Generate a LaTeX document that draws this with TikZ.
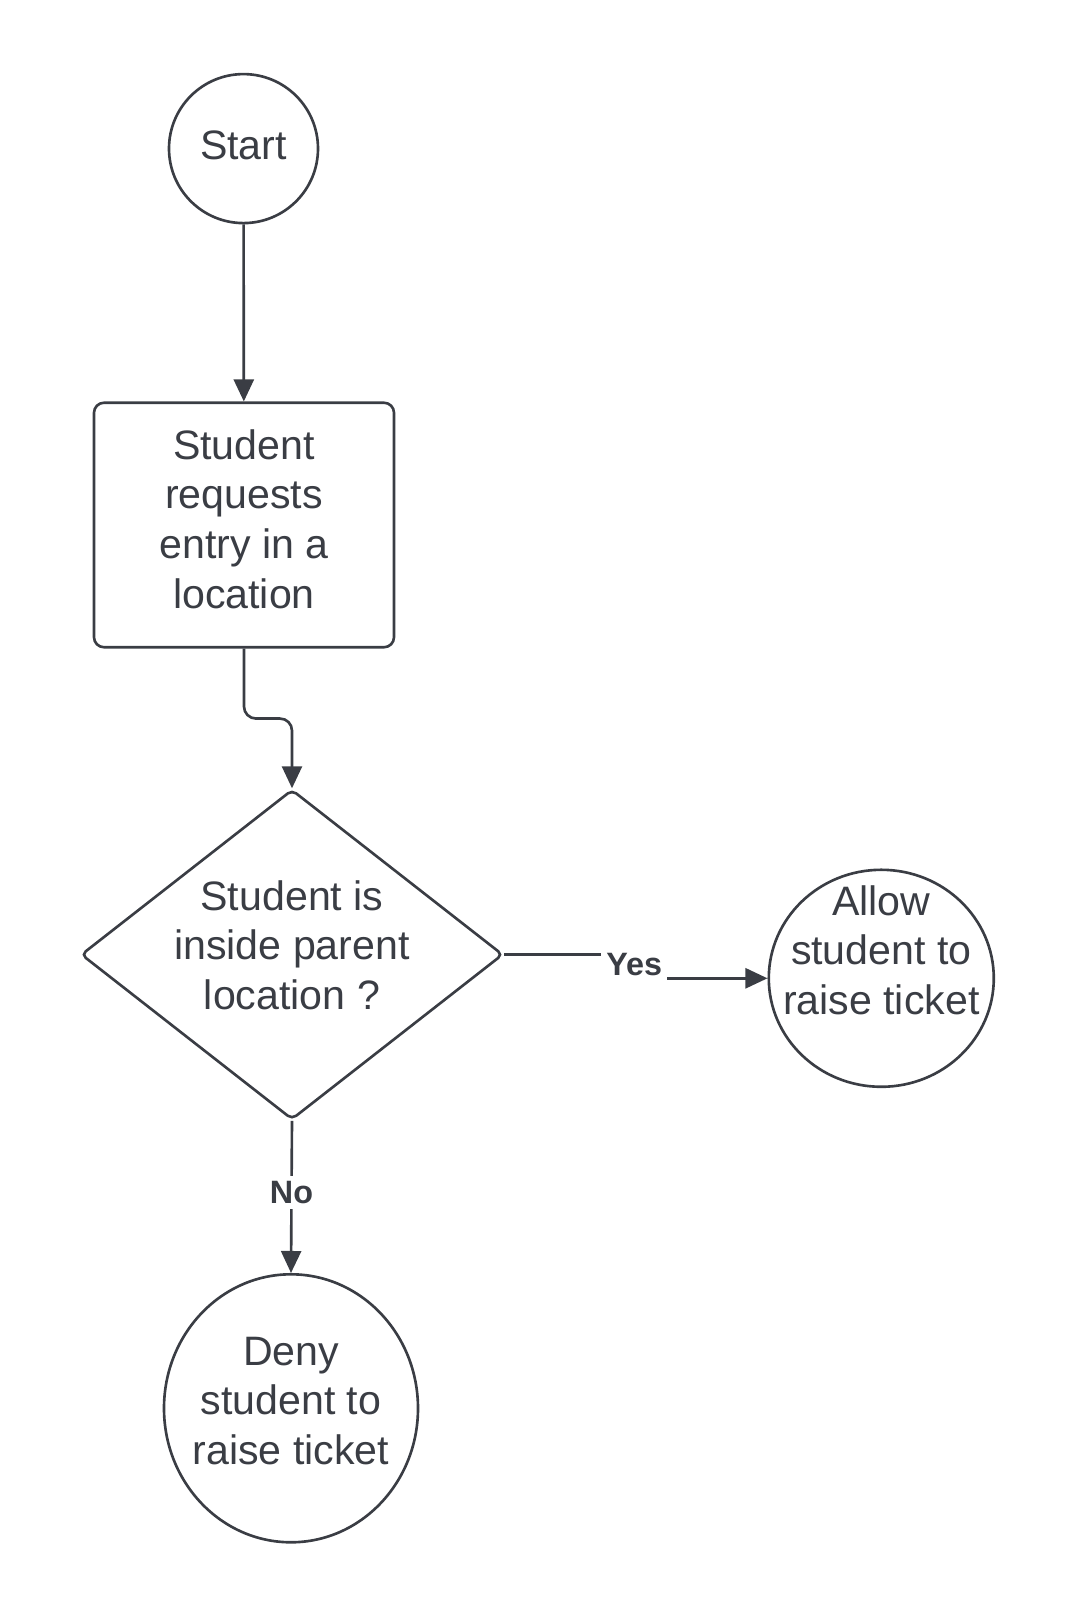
\documentclass[tikz,border=0pt]{standalone}
\usepackage{fontspec}
\setmainfont{Liberation Sans}
\usepackage{tikz}
\usetikzlibrary{arrows.meta, shapes.geometric}
\definecolor{ink}{HTML}{3A3D44}

\begin{document}
\begin{tikzpicture}[
		ink lines/.style={draw=ink, line width=0.75pt},
		shp/.style={ink lines, inner sep=0pt},
		txt/.style={align=center, text=ink, font=\fontsize{11.7}{14.1}\selectfont},
		flow/.style={ink lines, -{Triangle[length=2.2mm,width=2mm]}},
		lbl/.style={fill=white, text=ink, inner sep=1.5pt, font=\fontsize{9.2}{10}\selectfont\bfseries}]
		\useasboundingbox (0,0) rectangle (10.69,16.18);
		% shapes
		\node[shp, circle, minimum size=1.49cm] (start) at (2.435,14.694) {};
		\node[shp, rectangle, rounded corners=0.1cm, minimum width=3.0cm, minimum height=2.445cm] (request) at (2.44,10.93) {};
		\node[shp, diamond, rounded corners=1.5pt, minimum width=4.22cm, minimum height=3.30cm] (check) at (2.92,6.634) {};
		\node[shp, ellipse, minimum width=2.25cm, minimum height=2.17cm] (allow) at (8.813,6.397) {};
		\node[shp, ellipse, minimum width=2.54cm, minimum height=2.68cm] (deny) at (2.91,2.097) {};
		% texts
		\node[txt] (starttxt) at (2.435,14.73) {Start};
		\node[txt] (requesttxt) at (2.44,10.99) {Student\\requests\\entry in a\\location};
		\node[txt] (checktxt) at (2.92,6.73) {Student is\\inside parent\\location ?};
		\node[txt] (allowtxt) at (8.813,6.68) {Allow\\student to\\raise ticket};
		\node[txt] (denytxt) at (2.91,2.17) {Deny\\student to\\raise ticket};
		% connectors
		\draw[flow] (start) -- (request);
		\draw[flow, rounded corners=0.12cm] (request.south) -- ++(0,-0.7) -| (check.north);
		\draw[flow] (check.east) -- ++(1.30,0) |- node[lbl, pos=0.2] (yes) {Yes} (allow.west);
		\draw[flow] (check.south) -- node[lbl, pos=0.47] (no) {No} (deny.north);
	\end{tikzpicture}
\end{document}
